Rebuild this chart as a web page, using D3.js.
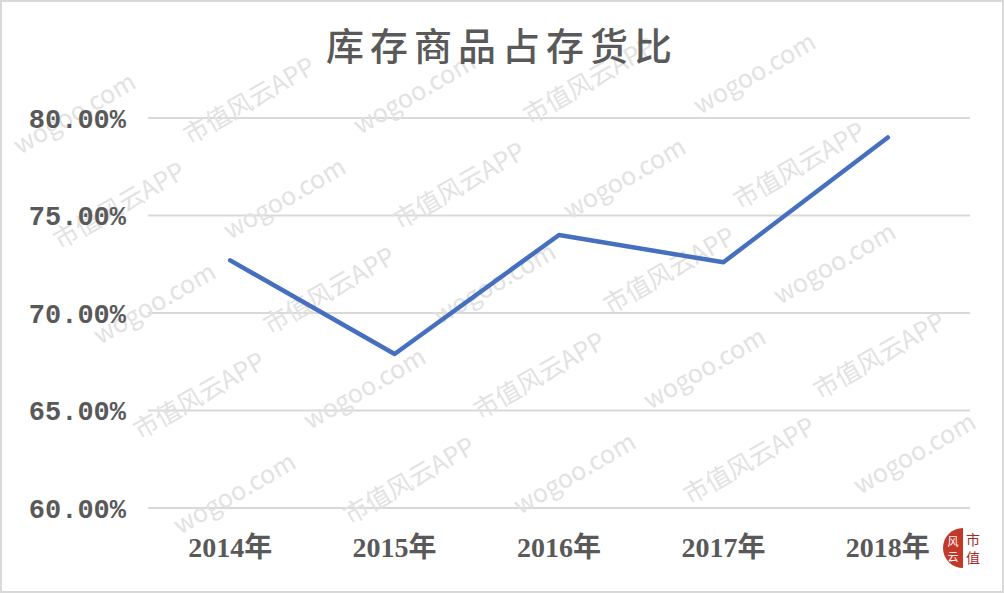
<!DOCTYPE html>
<html><head><meta charset="utf-8">
<script src="https://cdn.jsdelivr.net/npm/d3@7"></script>
<style>body{margin:0;background:#fff}svg{display:block}</style>
</head><body>
<svg id="c" width="1004" height="593"></svg>
<script>
const title = "库存商品占存货比";
const categories = ["2014年","2015年","2016年","2017年","2018年"];
const values = [72.7, 67.9, 74.0, 72.6, 79.0];
const yTicks = [60, 65, 70, 75, 80];
const watermarkTexts = ["市值风云APP", "wogoo.com"];

const svg = d3.select("#c");
const W = 1004, H = 593;
const m = {left:148, right:34, top:118, bottom:85};

svg.append("rect").attr("x",1).attr("y",1).attr("width",W-2).attr("height",H-2)
  .attr("fill","#fff").attr("stroke","#d9d9d9").attr("stroke-width",2);

const x = d3.scaleBand().domain(categories).range([m.left, W-m.right]);
const y = d3.scaleLinear().domain([60,80]).range([H-m.bottom, m.top]);

// gridlines
svg.append("g").selectAll("line").data(yTicks).join("line")
  .attr("x1", m.left).attr("x2", W-m.right)
  .attr("y1", d=>y(d)).attr("y2", d=>y(d))
  .attr("stroke","#d9d9d9").attr("stroke-width",2);

// watermark
const wm = svg.append("g").attr("fill","#e2e2e2")
  .attr("font-family","'Noto Sans CJK SC',sans-serif").attr("font-size",25);
const wmPts = [];
for (let r=-4; r<10; r++) for (let c=-2; c<8; c++) wmPts.push({r,c});
function c2x(d){return d.c*170 + d.r*40 - 20;}
function c2y(d){return d.r*95 + d.c*-10 + 60;}
wm.selectAll("text").data(wmPts).join("text")
  .attr("transform", d=>`translate(${c2x(d)},${c2y(d)}) rotate(-30)`)
  .text(d=>watermarkTexts[(d.r+d.c+20)%2]);
wm.selectAll("text").each(function(){
  const b = this.getBoundingClientRect();
  if (b.left < 4 || b.top < 4 || b.right > W-4 || b.bottom > H-4) this.remove();
});

// y axis labels
const yAxis = d3.axisLeft(y).tickValues(yTicks).tickFormat(d=>d3.format(".2f")(d)+"%").tickSize(0).tickPadding(22);
const ya = svg.append("g").attr("transform",`translate(${m.left},0)`).call(yAxis);
ya.select(".domain").remove();
ya.selectAll("text").attr("font-family","'Liberation Mono','DejaVu Sans Mono',monospace")
  .attr("font-size",27).attr("font-weight","bold").attr("fill","#595959").attr("dy","0.35em");

// x axis labels
const xAxis = d3.axisBottom(x).tickSize(0).tickPadding(29);
const xa = svg.append("g").attr("transform",`translate(0,${H-m.bottom})`).call(xAxis);
xa.select(".domain").remove();
xa.selectAll("text").attr("font-family","'Liberation Serif','Noto Sans CJK SC',serif")
  .attr("font-size",28).attr("font-weight","bold").attr("fill","#595959");

// line
const line = d3.line().x((d,i)=>x(categories[i])+x.bandwidth()/2).y(d=>y(d));
svg.append("path").datum(values).attr("d",line)
  .attr("fill","none").attr("stroke","#4670bf").attr("stroke-width",4.5)
  .attr("stroke-linejoin","round").attr("stroke-linecap","round");

// title
svg.append("text").attr("x",502).attr("y",60).attr("text-anchor","middle")
  .attr("font-family","'Noto Sans CJK SC',sans-serif").attr("font-size",38)
  .attr("letter-spacing",6).attr("fill","#595959").attr("font-weight","500").text(title);

// logo
const lg = svg.append("g").attr("transform","translate(963,548)");
lg.append("path").attr("d","M0,-20 A20,20 0 0,0 0,20 Z").attr("fill","#c0392b");
lg.append("text").attr("x",-10).attr("y",-2).attr("text-anchor","middle").attr("font-size",11)
  .attr("fill","#fff").attr("font-family","'Noto Sans CJK SC',sans-serif").text("风");
lg.append("text").attr("x",-10).attr("y",13).attr("text-anchor","middle").attr("font-size",11)
  .attr("fill","#fff").attr("font-family","'Noto Sans CJK SC',sans-serif").text("云");
lg.append("text").attr("x",10).attr("y",-3).attr("text-anchor","middle").attr("font-size",14)
  .attr("fill","#a52a2a").attr("font-family","'Noto Sans CJK SC',sans-serif").text("市");
lg.append("text").attr("x",10).attr("y",15).attr("text-anchor","middle").attr("font-size",14)
  .attr("fill","#a52a2a").attr("font-family","'Noto Sans CJK SC',sans-serif").text("值");
</script>
</body></html>
